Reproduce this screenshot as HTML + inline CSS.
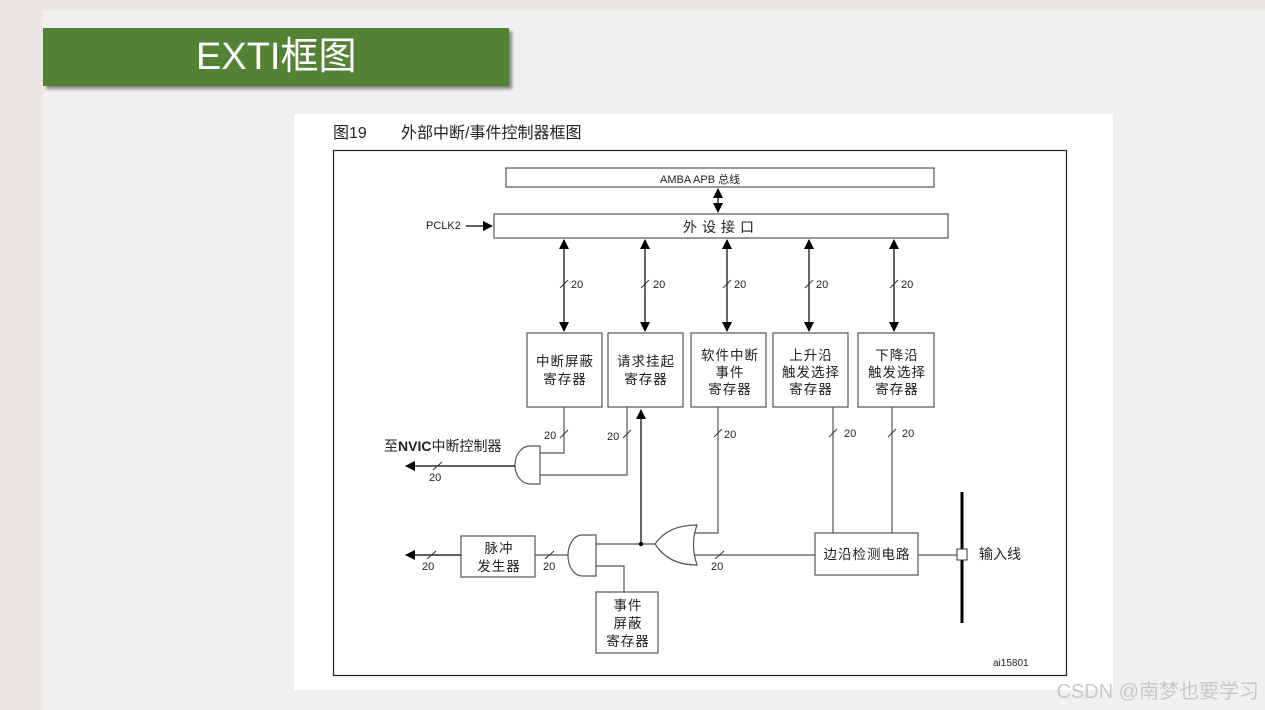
<!DOCTYPE html>
<html><head><meta charset="utf-8"><style>
html,body{margin:0;padding:0}
body{width:1265px;height:710px;background:#ece5e3;position:relative;overflow:hidden;font-family:"Liberation Sans","Noto Sans CJK SC",sans-serif}
.slide{position:absolute;left:43px;top:10px;width:1222px;height:700px;background:#f0f0f0}
.title{position:absolute;left:43px;top:28px;width:466px;height:58px;background:#548235;box-shadow:3px 3px 3px #888;color:#fff;font-size:38px;line-height:58px;text-indent:153px;font-family:"Liberation Sans","Noto Sans CJK SC",sans-serif}
.wm{position:absolute;right:6px;bottom:6px;color:#c8c8c8;font-size:20px}
svg{position:absolute;left:0;top:0}
svg text{font-family:"Liberation Sans","Noto Sans CJK SC",sans-serif;fill:#222}
</style></head><body>
<div class="slide"></div>
<div class="title">EXTI框图</div>
<svg width="1265" height="710" viewBox="0 0 1265 710">
<defs>
<marker id="b" markerWidth="10" markerHeight="10" refX="9" refY="5" orient="auto-start-reverse" markerUnits="userSpaceOnUse"><path d="M0,0L10,5L0,10z" fill="#000"/></marker></defs>
<rect x="294" y="114" width="819" height="576" fill="#fff"/>
<text x="333" y="138" font-size="16">图19</text><text x="401" y="138" font-size="16">外部中断/事件控制器框图</text>
<rect x="333.5" y="150.5" width="733" height="525" fill="none" stroke="#222" stroke-width="1.2"/>
<g stroke="#555" stroke-width="1.2" fill="none">
<rect x="506" y="168" width="428" height="19"/>
<rect x="494" y="214" width="454" height="24"/>
<line x1="718" y1="189" x2="718" y2="212" stroke="#000" marker-start="url(#b)" marker-end="url(#b)"/>
<line x1="466" y1="226" x2="492" y2="226" stroke="#000" marker-end="url(#b)"/>
<g stroke="#000">
<line x1="564" y1="240" x2="564" y2="331" marker-start="url(#b)" marker-end="url(#b)"/>
<line x1="645" y1="240" x2="645" y2="331" marker-start="url(#b)" marker-end="url(#b)"/>
<line x1="727" y1="240" x2="727" y2="331" marker-start="url(#b)" marker-end="url(#b)"/>
<line x1="809" y1="240" x2="809" y2="331" marker-start="url(#b)" marker-end="url(#b)"/>
<line x1="894" y1="240" x2="894" y2="331" marker-start="url(#b)" marker-end="url(#b)"/>
</g>
<rect x="527" y="333" width="75" height="74"/>
<rect x="608" y="333" width="75" height="74"/>
<rect x="691" y="333" width="75" height="74"/>
<rect x="773" y="333" width="75" height="74"/>
<rect x="858" y="333" width="76" height="74"/>
<polyline points="564,407 564,453 540,453"/>
<polyline points="627,407 627,475 540,475"/>
<path d="M540,446 L540,484 L530,484 A15,19 0 0 1 530,446 Z"/>
<line x1="515" y1="466" x2="406" y2="466" stroke="#000" marker-end="url(#b)"/>
<line x1="641" y1="544" x2="641" y2="410" stroke="#000" marker-end="url(#b)"/>
<path d="M697,525 Q690,544 697,565 Q668,565 655,544 Q668,525 697,525 Z"/>
<polyline points="718,407 718,533 694,533"/>
<polyline points="815,555 694,555"/>
<line x1="655" y1="544" x2="596" y2="544"/>
<polyline points="833,407 833,533"/>
<polyline points="892,407 892,533"/>
<path d="M596,535 L596,576 L582,576 A14,20.5 0 0 1 582,535 Z"/>
<polyline points="624,592 624,566 596,566"/>
<line x1="568" y1="555" x2="535" y2="555"/>
<rect x="461" y="536" width="74" height="41"/>
<line x1="461" y1="555" x2="406" y2="555" stroke="#000" marker-end="url(#b)"/>
<rect x="596" y="592" width="62" height="61"/>
<rect x="815" y="533" width="103" height="42"/>
<line x1="918" y1="555" x2="957" y2="555"/>
</g>
<circle cx="641" cy="544" r="2.2" fill="#000"/>
<line x1="962" y1="492" x2="962" y2="623" stroke="#000" stroke-width="3"/>
<rect x="957" y="549" width="10" height="11" fill="#fff" stroke="#333"/>
<g stroke="#333" stroke-width="1">
<line x1="560" y1="288" x2="568" y2="280"/><line x1="641" y1="288" x2="649" y2="280"/><line x1="723" y1="288" x2="731" y2="280"/><line x1="805" y1="288" x2="813" y2="280"/><line x1="890" y1="288" x2="898" y2="280"/>
<line x1="560" y1="438" x2="568" y2="430"/><line x1="623" y1="438" x2="631" y2="430"/><line x1="714" y1="437" x2="722" y2="429"/><line x1="829" y1="437" x2="837" y2="429"/><line x1="888" y1="437" x2="896" y2="429"/>
<line x1="433" y1="470" x2="442" y2="462"/><line x1="427" y1="559" x2="436" y2="551"/><line x1="545" y1="559" x2="554" y2="551"/><line x1="715" y1="559" x2="724" y2="551"/>
</g>
<g font-size="11">
<text x="571" y="288">20</text><text x="653" y="288">20</text><text x="734" y="288">20</text><text x="816" y="288">20</text><text x="901" y="288">20</text>
<text x="544" y="439">20</text><text x="607" y="440">20</text><text x="724" y="438">20</text><text x="844" y="437">20</text><text x="902" y="437">20</text>
<text x="429" y="481">20</text><text x="422" y="570">20</text><text x="543" y="570">20</text><text x="711" y="570">20</text>
<text x="660" y="183" font-size="11">AMBA APB 总线</text>
<text x="426" y="229">PCLK2</text>
<text x="993" y="666" font-size="10">ai15801</text>
</g>
<text x="721" y="232" font-size="14" text-anchor="middle" letter-spacing="5">外设接口</text>
<g font-size="13.5" text-anchor="middle" letter-spacing="1">
<text x="565" y="366">中断屏蔽</text><text x="565" y="384">寄存器</text>
<text x="646" y="366">请求挂起</text><text x="646" y="384">寄存器</text>
<text x="730" y="360">软件中断</text><text x="730" y="377">事件</text><text x="730" y="394">寄存器</text>
<text x="811" y="360">上升沿</text><text x="811" y="377">触发选择</text><text x="811" y="394">寄存器</text>
<text x="897" y="360">下降沿</text><text x="897" y="377">触发选择</text><text x="897" y="394">寄存器</text>
<text x="499" y="553">脉冲</text><text x="499" y="571">发生器</text>
<text x="628" y="610">事件</text><text x="628" y="628">屏蔽</text><text x="628" y="646">寄存器</text>
<text x="867" y="559">边沿检测电路</text>
</g>
<text x="384" y="451" font-size="14">至<tspan font-weight="bold">NVIC</tspan>中断控制器</text>
<text x="979" y="559" font-size="14">输入线</text>
</svg>
<div class="wm">CSDN @南梦也要学习</div>
</body></html>
